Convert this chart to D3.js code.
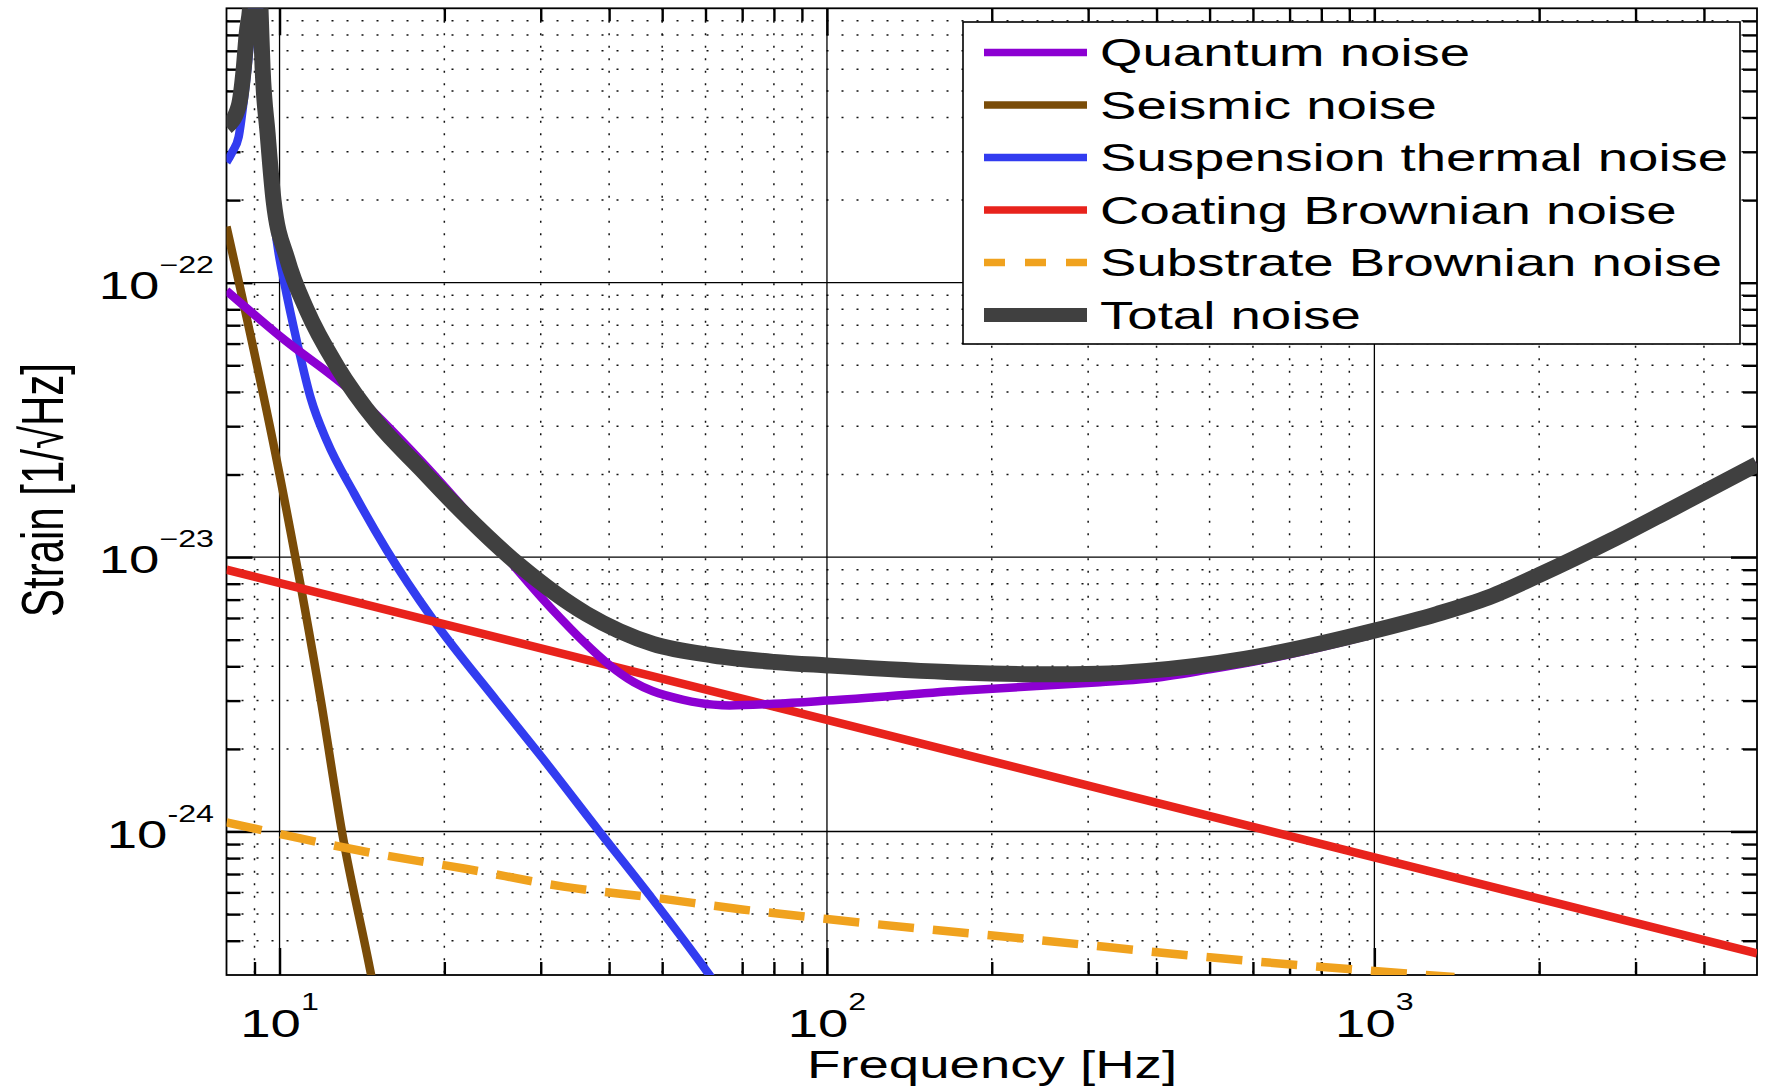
<!DOCTYPE html>
<html>
<head>
<meta charset="utf-8">
<script src="https://cdn.jsdelivr.net/npm/d3@7"></script>
<style>
  body { margin: 0; background: #fff; }
  text { font-family: "Liberation Sans", Arial, sans-serif; fill: #000; }
</style>
</head>
<body>
<svg id="chart" width="1768" height="1091"></svg>
<script>
// [frequency Hz, strain 1/sqrt(Hz)]
var quantum = [[8, 9.35e-23], [10, 6.4e-23], [13.7, 3.93e-23], [18.1, 2.25e-23], [23.9, 1.21e-23],
  [31.6, 6.4e-24], [36, 4.9e-24], [40, 4.05e-24], [44.4, 3.5e-24], [48, 3.25e-24], [54.7, 3.02e-24],
  [62, 2.9e-24], [66.4, 2.88e-24], [80, 2.92e-24], [100, 3.0e-24], [174, 3.26e-24], [315, 3.5e-24],
  [384, 3.6e-24], [500, 3.9e-24], [636, 4.25e-24], [800, 4.7e-24], [1000, 5.25e-24], [1300, 6.1e-24],
  [1619, 7.05e-24], [2000, 8.5e-24], [2707, 1.14e-23], [3500, 1.49e-23], [5000, 2.17e-23]];

var seismic = [[8, 1.6e-22], [10, 2.0e-23], [11.9, 3.0e-24], [13, 1.0e-24], [14.7, 3.0e-25], [16, 1.2e-25]];

var suspension = [[8, 2.75e-22], [8.2, 3.0e-22], [8.42, 3.4e-22], [8.6, 4.6e-22], [8.74, 6.1e-22],
  [8.85, 8.1e-22], [8.95, 1.3e-21], [9.04, 3.5e-21], [9.13, 1.3e-21], [9.23, 8.0e-22], [9.31, 5.3e-22],
  [9.51, 3.0e-22], [9.75, 1.75e-22], [9.95, 1.3e-22], [10.2, 1.0e-22], [10.8, 5.9e-23], [11.4, 3.8e-23],
  [12.2, 2.65e-23], [13.7, 1.7e-23], [15.7, 1.06e-23], [19.1, 5.9e-24], [24.9, 3.0e-24], [30.1, 1.87e-24],
  [38.4, 1.0e-24], [47.6, 5.8e-25], [61, 3.0e-25], [66, 2.4e-25]];

var coating = [[8, 9.0e-24], [100, 2.55e-24], [1000, 8.05e-25], [5000, 3.6e-25]];

var substrate = [[8, 1.08e-24], [10, 9.8e-25], [15, 8.3e-25], [22, 7.3e-25], [33, 6.3e-25], [48, 5.75e-25],
  [70, 5.2e-25], [100, 4.8e-25], [250, 4.0e-25], [500, 3.48e-25], [1000, 3.1e-25], [1400, 2.95e-25]];

var total = [[8, 3.7e-22], [8.42, 4.4e-22], [8.6, 6.0e-22], [8.71, 8.1e-22], [8.85, 1.05e-21],
  [8.95, 1.7e-21], [9.04, 4.0e-21], [9.13, 1.7e-21], [9.23, 1.0e-21], [9.31, 6.1e-22], [9.51, 3.5e-22],
  [9.75, 2.0e-22], [10.33, 1.22e-22], [11.23, 7.9e-23], [12.74, 4.95e-23], [15.06, 3.1e-23],
  [18.1, 2.1e-23], [20.8, 1.57e-23], [27.5, 9.3e-24], [36.4, 6.2e-24], [48.1, 4.83e-24], [62, 4.38e-24],
  [80, 4.15e-24], [100, 4.03e-24], [174, 3.8e-24], [250, 3.74e-24], [315, 3.76e-24], [384, 3.85e-24],
  [579, 4.26e-24], [998, 5.39e-24], [1300, 6.2e-24], [1619, 7.14e-24], [2000, 8.6e-24], [2707, 1.15e-23],
  [3500, 1.5e-23], [5000, 2.18e-23]];

var seriesNames = ["Quantum noise", "Seismic noise", "Suspension thermal noise",
  "Coating Brownian noise", "Substrate Brownian noise", "Total noise"];
var seriesColors = ["#8c00d2", "#7a4c08", "#323cf0", "#e8231c", "#f0a21e", "#404040"];

var xTicks = [10, 100, 1000];
var xTickExp = ["1", "2", "3"];
var yTicks = [1e-22, 1e-23, 1e-24];
var yTickExp = ["\u221222", "\u221223", "-24"];

var svg = d3.select("#chart");
var pL = 226.5, pR = 1757, pT = 8.3, pB = 975;
var SX = 1.4; // the text in the original is stretched sideways

var x = d3.scaleLog().domain([8, 5000]).range([pL, pR]);
var y = d3.scaleLog().domain([3e-25, 1e-21]).range([pB, pT]);

function isDecade(v) { return Math.abs(Math.log10(v) - Math.round(Math.log10(v))) < 1e-9; }
var xAll = x.ticks().filter(function(v) { return v > 8.0001 && v < 4999; });
var yAll = y.ticks().filter(function(v) { return v > 3.0001e-25 && v < 0.9999e-21; });
var xMinor = xAll.filter(function(v) { return !isDecade(v); });
var yMinor = yAll.filter(function(v) { return !isDecade(v); });

// grid
var grid = svg.append("g");
grid.selectAll(".gxm").data(xMinor).enter().append("line")
  .attr("x1", x).attr("x2", x).attr("y1", pT).attr("y2", pB)
  .attr("stroke", "#111").attr("stroke-width", 1.5).attr("stroke-dasharray", "2,10.5");
grid.selectAll(".gym").data(yMinor).enter().append("line")
  .attr("y1", y).attr("y2", y).attr("x1", pL).attr("x2", pR)
  .attr("stroke", "#111").attr("stroke-width", 1.5).attr("stroke-dasharray", "2,13");
grid.selectAll(".gx").data(xTicks).enter().append("line")
  .attr("x1", x).attr("x2", x).attr("y1", pT).attr("y2", pB)
  .attr("stroke", "#000").attr("stroke-width", 1.3);
grid.selectAll(".gy").data(yTicks).enter().append("line")
  .attr("y1", y).attr("y2", y).attr("x1", pL).attr("x2", pR)
  .attr("stroke", "#000").attr("stroke-width", 1.3);

// ticks on all four sides, pointing inward
function ticks(axis, tx, ty, vals, size) {
  var g = svg.append("g").attr("transform", "translate(" + tx + "," + ty + ")")
    .call(axis.tickValues(vals).tickSize(-size).tickFormat(""));
  g.select(".domain").remove();
  g.selectAll(".tick line").attr("stroke", "#000").attr("stroke-width", 2.4);
}
ticks(d3.axisBottom(x), 0, pB, xMinor, 13);
ticks(d3.axisBottom(x), 0, pB, xTicks, 27);
ticks(d3.axisTop(x), 0, pT, xMinor, 13);
ticks(d3.axisTop(x), 0, pT, xTicks, 27);
ticks(d3.axisLeft(y), pL, 0, yMinor, 14);
ticks(d3.axisLeft(y), pL, 0, yTicks, 26);
ticks(d3.axisRight(y), pR, 0, yMinor, 14);
ticks(d3.axisRight(y), pR, 0, yTicks, 26);

svg.append("rect").attr("x", pL).attr("y", pT)
  .attr("width", pR - pL).attr("height", pB - pT)
  .attr("fill", "none").attr("stroke", "#000").attr("stroke-width", 1.8);

// curves
svg.append("clipPath").attr("id", "plotClip").append("rect")
  .attr("x", pL).attr("y", pT).attr("width", pR - pL).attr("height", pB - pT);
var line = d3.line().x(function(d) { return x(d[0]); }).y(function(d) { return y(d[1]); })
  .curve(d3.curveMonotoneX);
var curves = svg.append("g").attr("clip-path", "url(#plotClip)");
var seriesData = [quantum, seismic, suspension, coating, substrate, total];
var drawOrder = [1, 2, 3, 4, 0, 5];
drawOrder.forEach(function(i) {
  curves.append("path").datum(seriesData[i]).attr("d", line)
    .attr("fill", "none").attr("stroke", seriesColors[i])
    .attr("stroke-width", i === 5 ? 16 : 8.5)
    .attr("stroke-linejoin", "round")
    .attr("stroke-dasharray", i === 4 ? "36,19" : null);
});

// labels
function label(px, py, anchor, size) {
  return svg.append("text")
    .attr("transform", "translate(" + px + "," + py + ") scale(" + SX + ",1)")
    .attr("text-anchor", anchor).attr("font-size", size);
}
xTicks.forEach(function(v, i) {
  var t = label(x(v), 1037, "middle", 39);
  t.append("tspan").text("10");
  t.append("tspan").attr("dy", -27).attr("font-size", 23).text(xTickExp[i]);
});
yTicks.forEach(function(v, i) {
  var t = label(214, y(v) + 16, "end", 39);
  t.append("tspan").text("10");
  t.append("tspan").attr("dy", -26).attr("font-size", 23).text(yTickExp[i]);
});
label(992, 1078, "middle", 39).text("Frequency [Hz]");
svg.append("text")
  .attr("transform", "translate(63,490) scale(" + SX + ",1) rotate(-90)")
  .attr("text-anchor", "middle").attr("font-size", 42).text("Strain [1/\u221AHz]");

// legend
var lg = svg.append("g");
lg.append("rect").attr("x", 963).attr("y", 22).attr("width", 777).attr("height", 322)
  .attr("fill", "#fff").attr("stroke", "#000").attr("stroke-width", 1.6);
seriesNames.forEach(function(name, i) {
  var ry = 52.5 + i * 52.5;
  lg.append("line").attr("x1", 984).attr("x2", 1087).attr("y1", ry).attr("y2", ry)
    .attr("stroke", seriesColors[i]).attr("stroke-width", i === 5 ? 14 : 7.5)
    .attr("stroke-dasharray", i === 4 ? "21,20" : null);
  label(1100, ry + 13.5, "start", 39).text(name);
});
</script>
</body>
</html>
